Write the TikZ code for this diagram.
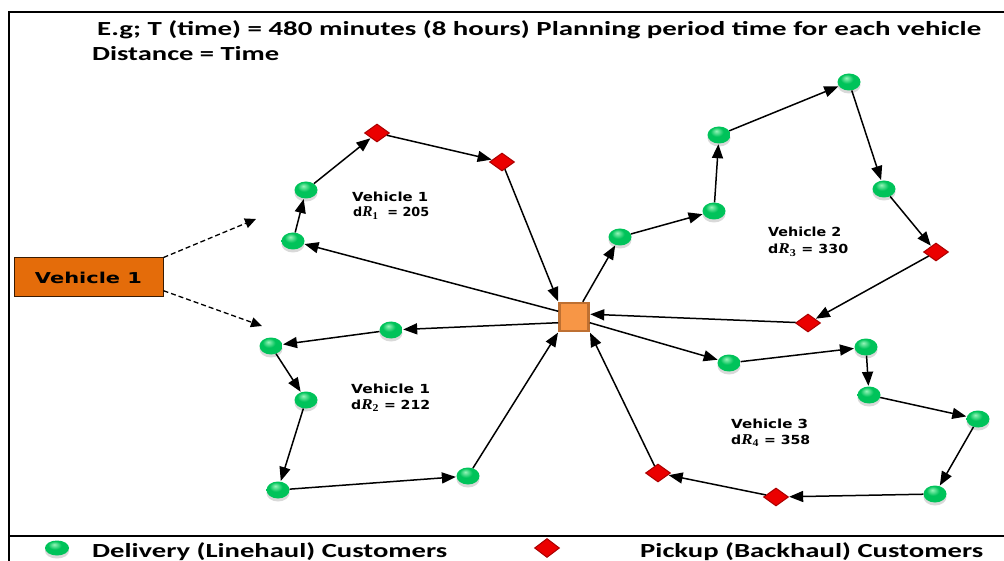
\documentclass[tikz,border=0pt]{standalone}
\usepackage{fontspec}
\usepackage{graphicx}
\usetikzlibrary{shapes.geometric,arrows.meta,shadows}
\newfontfamily\calib{Carlito}
\newfontfamily\verd{DejaVu Sans}
\newfontfamily\serifit{Liberation Serif}
% stretch a text horizontally to a given width, keeping its height
\newcommand{\hfit}[2]{\resizebox{#1}{\height}{#2}}
\newcommand{\dR}[1]{d{\serifit\bfseries\itshape\fontsize{15}{16}\selectfont R}{\serifit\bfseries\fontsize{15}{16}\selectfont\textsubscript{#1}}}
\definecolor{ballmid}{RGB}{0,195,90}
\definecolor{ballhi}{RGB}{150,245,185}
\definecolor{ballrim}{RGB}{0,130,55}
\definecolor{pickred}{RGB}{235,0,0}
\definecolor{pickedge}{RGB}{170,0,0}
\definecolor{depotfill}{RGB}{247,150,70}
\definecolor{depotedge}{RGB}{190,112,50}
\definecolor{vehfill}{RGB}{228,108,10}
% glossy green shading with the highlight up and to the left
\pgfdeclareradialshading{greenball}{\pgfqpoint{-6bp}{12bp}}{%
  color(0bp)=(ballhi); color(14bp)=(ballmid); color(30bp)=(ballmid);
  color(42bp)=(ballrim); color(60bp)=(ballrim)}
\begin{document}
\begin{tikzpicture}[x=1pt,y=-1pt,
  delivery/.style={ellipse, minimum width=23pt, minimum height=17pt, inner sep=0pt,
    shading=greenball,
    drop shadow={shadow xshift=0pt, shadow yshift=-3pt, opacity=0.25, fill=black!60}},
  pickup/.style={diamond, minimum width=25pt, minimum height=18pt, inner sep=0pt,
    fill=pickred, draw=pickedge, line width=1pt},
  depot/.style={rectangle, minimum width=29pt, minimum height=28pt, inner sep=0pt,
    fill=depotfill, draw=depotedge, line width=2.5pt},
  route/.style={draw=black, line width=1.5pt, shorten >=0.5pt,
    -{Triangle[length=14pt,width=11pt]}},
  hint/.style={draw=black, line width=1.3pt, dash pattern=on 5pt off 3pt,
    -{Triangle[length=11pt,width=10pt]}},
  lbl/.style={anchor=base west, inner sep=0pt, font=\verd\bfseries\fontsize{12.5}{14}\selectfont},
  bigtxt/.style={anchor=base west, inner sep=0pt, font=\calib\bfseries\fontsize{20}{22}\selectfont}
]
\useasboundingbox (0,0) rectangle (1004,561);

% frame
\draw[line width=1.5pt] (9,561) -- (9,12) -- (1004,12);
\draw[line width=1.3pt] (9,536) -- (1004,536);

% heading
\node[bigtxt] (title1) at (97,35.5) {\hfit{884pt}{E.g; T (time) = 480 minutes (8 hours) Planning period time for each vehicle}};
\node[bigtxt] (title2) at (92,61) {\hfit{187pt}{Distance = Time}};

% depot
\node[depot] (dep) at (574,317) {};

% route 1 (top left)
\node[delivery] (A1) at (293,241) {};
\node[delivery] (A2) at (306,190) {};
\node[pickup]   (A3) at (377,133) {};
\node[pickup]   (A4) at (502,162) {};
% route 2 (bottom left)
\node[delivery] (B1) at (391,330) {};
\node[delivery] (B2) at (271,346) {};
\node[delivery] (B3) at (306,400) {};
\node[delivery] (B4) at (278,490) {};
\node[delivery] (B5) at (468,476) {};
% route 3 (top right)
\node[delivery] (C1) at (620,237) {};
\node[delivery] (C2) at (714,211) {};
\node[delivery] (C3) at (719,135) {};
\node[delivery] (C4) at (849,82) {};
\node[delivery] (C5) at (884,189) {};
\node[pickup]   (C6) at (936,252) {};
\node[pickup]   (C7) at (808,323) {};
% route 4 (bottom right)
\node[delivery] (D1) at (729,363) {};
\node[delivery] (D2) at (866,347) {};
\node[delivery] (D3) at (869,395) {};
\node[delivery] (D4) at (978,419) {};
\node[delivery] (D5) at (935,494) {};
\node[pickup]   (D6) at (776,497) {};
\node[pickup]   (D7) at (658,473) {};

% connectors
\draw[route] (dep.160) -- (A1);
\draw[route] (A1) -- (A2);
\draw[route] (A2) -- (A3);
\draw[route] (A3) -- (A4);
\draw[route] (A4) -- (dep.north west);

\draw[route] (dep.200) -- (B1);
\draw[route] (B1) -- (B2);
\draw[route] (B2) -- (B3);
\draw[route] (B3) -- (B4);
\draw[route] (B4) -- (B5);
\draw[route] (B5) -- (dep.south west);

\draw[route] (dep.60) -- (C1);
\draw[route] (C1) -- (C2);
\draw[route] (C2) -- (C3);
\draw[route] (C3) -- (C4);
\draw[route] (C4) -- (C5);
\draw[route] (C5) -- (C6);
\draw[route] (C6) -- (C7);
\draw[route] (C7) -- (dep.10);

\draw[route] (dep.-20) -- (D1);
\draw[route] (D1) -- (D2);
\draw[route] (D2) -- (D3);
\draw[route] (D3) -- (D4);
\draw[route] (D4) -- (D5);
\draw[route] (D5) -- (D6);
\draw[route] (D6) -- (D7);
\draw[route] (D7) -- (dep.south east);

% route labels
\node[lbl] (l1a) at (352,202) {\hfit{76pt}{Vehicle 1}};
\node[lbl] (l1b) at (353,217) {\hfit{76pt}{\dR{1}\ \ = 205}};
\node[lbl] (l2a) at (351,393) {\hfit{79pt}{Vehicle 1}};
\node[lbl] (l2b) at (351,409) {\hfit{79pt}{\dR{2} = 212}};
\node[lbl] (l3a) at (768,237) {\hfit{73pt}{Vehicle 2}};
\node[lbl] (l3b) at (768,254) {\hfit{80pt}{\dR{3} = 330}};
\node[lbl] (l4a) at (731,428) {\hfit{77pt}{Vehicle 3}};
\node[lbl] (l4b) at (731,444) {\hfit{79pt}{\dR{4} = 358}};

% vehicle box with its two hints
\node[rectangle, fill=vehfill, draw=black!75!vehfill, line width=1pt,
      minimum width=149pt, minimum height=39pt, inner sep=0pt,
      font=\verd\bfseries\fontsize{15}{18}\selectfont] (veh) at (88.5,277.5)
      {\hfit{107pt}{Vehicle 1}};
\coordinate (h1) at (256,219);
\coordinate (h2) at (262,326);
\draw[hint] (veh.north east) -- (h1);
\draw[hint] (veh.-10) -- (h2);

% legend
\node[delivery, minimum width=24pt, minimum height=15pt] (legD) at (57,548) {};
\node[pickup, minimum width=25pt, minimum height=19pt] (legP) at (547,548) {};
\node[bigtxt] (legDt) at (92,557) {\hfit{355pt}{Delivery (Linehaul) Customers}};
\node[bigtxt] (legPt) at (640,557) {\hfit{343pt}{Pickup (Backhaul) Customers}};
\end{tikzpicture}
\end{document}
